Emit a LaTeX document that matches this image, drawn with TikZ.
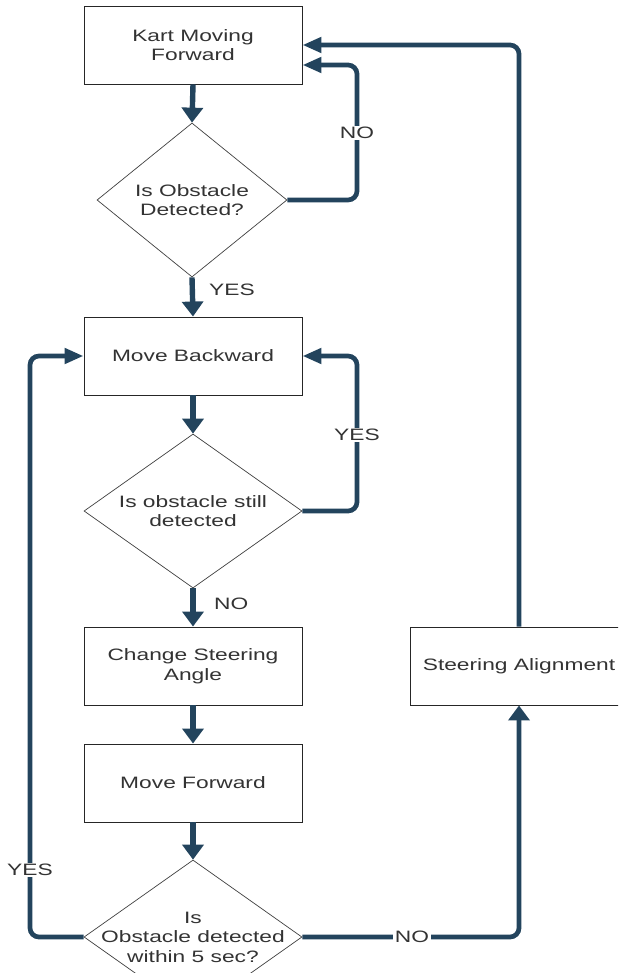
\documentclass[tikz,border=0pt]{standalone}
\usepackage{fontspec}
\setmainfont{Liberation Sans}[FakeStretch=1.38]
\usetikzlibrary{arrows.meta,shapes.geometric,calc}
\definecolor{flow}{HTML}{23445D}
\definecolor{txtc}{HTML}{333333}
\begin{document}
\begin{tikzpicture}[x=1pt,y=-1pt,
  every node/.style={font=\fontsize{16.5}{19.5}\selectfont, text=txtc},
  procbox/.style={draw=black!85, line width=0.9pt, minimum width=218pt, minimum height=78pt, inner sep=0pt, align=center, fill=white},
  decbox/.style={diamond, draw=black!75, line width=0.7pt, inner sep=0pt, fill=white},
  dtext/.style={align=center, inner sep=0pt},
  conn/.style={draw=flow, line width=4.7pt, rounded corners=9pt},
  vconn/.style={conn, -{Triangle[width=21pt,length=15pt]}},
  sconn/.style={conn, line width=5.4pt, -{Triangle[width=21pt,length=15pt]}},
  hconn/.style={conn, -{Triangle[width=15pt,length=19pt]}},
  lab/.style={fill=white, inner sep=1.5pt}
]
\useasboundingbox (0,0) rectangle (618,973);
\clip (0,0) rectangle (618,973);

% nodes
\node[procbox] (b1) at (193,45) {Kart Moving\\Forward};
\node[decbox, minimum width=190pt, minimum height=154pt] (d1) at (192,200) {};
\node[dtext] (t1) at (d1) {Is Obstacle\\Detected?};
\node[procbox] (b2) at (193,356) {Move Backward};
\node[decbox, minimum width=218pt, minimum height=154pt] (d2) at (193,511) {};
\node[dtext] (t2) at (d2) {Is obstacle still\\detected};
\node[procbox] (b3) at (193,666) {Change Steering\\Angle};
\node[procbox] (b4) at (193,783) {Move Forward};
\node[decbox, minimum width=218pt, minimum height=154pt] (d3) at (193,937) {};
\node[dtext] (t3) at (d3) {Is\\Obstacle detected\\within 5 sec?};
\node[procbox] (b5) at (519,666) {Steering Alignment};

\coordinate (c1) at (357,65);
\coordinate (c2) at (357,356);
\coordinate (c3) at (30,356);

% straight connectors
\draw[sconn] (b1.south) -- (d1.north);
\draw[sconn] (d1.south) -- (b2.north);
\draw[sconn] (b2.south) -- (d2.north);
\draw[sconn] (d2.south) -- (b3.north);
\draw[sconn] (b3.south) -- (b4.north);
\draw[sconn] (b4.south) -- (d3.north);

% loops
\draw[hconn] (d1.east) -| (c1) -- (c1 -| b1.east);
\draw[hconn] (d2.east) -| (c2) -- (b2.east);
\draw[hconn] (d3.west) -| (c3) -- (b2.west);
\draw[vconn] (d3.east) -| (b5.south);
\draw[hconn] (b5.north) |- (b1.east);

% labels
\node[lab] (lno1) at (357,133) {NO};
\node[lab] (lyes2) at (357,435) {YES};
\node[lab] (lyes3) at (30,870) {YES};
\node[lab] (lno3) at (412,937) {NO};
\node[anchor=west, inner sep=0pt] (lyes1) at (209,290) {YES};
\node[anchor=west, inner sep=0pt] (lno2) at (214,604) {NO};
\end{tikzpicture}
\end{document}
